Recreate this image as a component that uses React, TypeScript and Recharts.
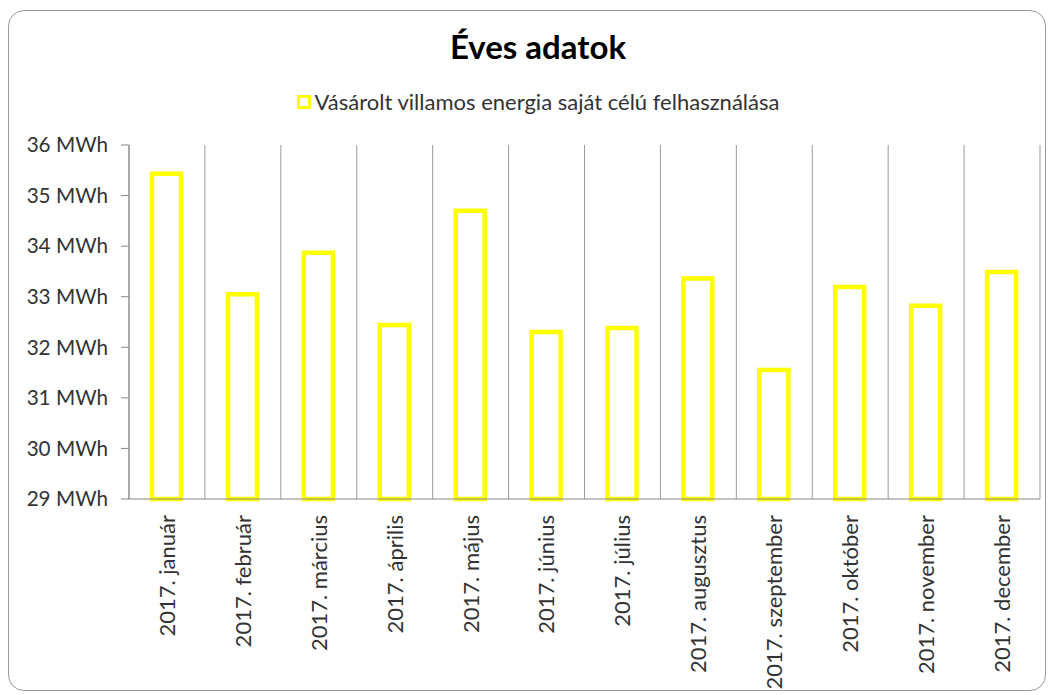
import React from 'react';
import { BarChart, Bar, XAxis, YAxis, CartesianGrid, Legend } from 'recharts';

const FONT = 'Lato, "Noto Sans", sans-serif';

const chartTitle = 'Éves adatok';
const seriesName = 'Vásárolt villamos energia saját célú felhasználása';

const months = [
  '2017. január',
  '2017. február',
  '2017. március',
  '2017. április',
  '2017. május',
  '2017. június',
  '2017. július',
  '2017. augusztus',
  '2017. szeptember',
  '2017. október',
  '2017. november',
  '2017. december',
];

const values = [35.43, 33.05, 33.87, 32.44, 34.7, 32.3, 32.38, 33.36, 31.55, 33.19, 32.82, 33.49];

const yTicks = [29, 30, 31, 32, 33, 34, 35, 36];

const boundaryTicks = [0, 1, 2, 3, 4, 5, 6, 7, 8, 9, 10, 11, 12];

const data = months.map((month, i) => ({ month, value: values[i] }));

const MonthTick = (props: any) => {
  const { x, y, payload } = props;
  return (
    <g transform={`translate(${x},${y})`}>
      <text
        x={-15}
        y={0}
        dy="0.36em"
        transform="rotate(-90)"
        textAnchor="end"
        fill="#333"
        fontSize={22}
        fontFamily={FONT}
      >
        {payload.value}
      </text>
    </g>
  );
};

const renderLegend = () => (
  <div
    style={{
      display: 'flex',
      justifyContent: 'center',
      alignItems: 'center',
      fontFamily: FONT,
      fontSize: 22,
      color: '#333',
      lineHeight: '26px',
      height: 26,
      paddingLeft: 26,
    }}
  >
    <span
      style={{
        display: 'inline-block',
        width: 8,
        height: 8,
        border: '3.5px solid #FFFF00',
        background: '#fff',
        marginRight: 4,
      }}
    />
    <span>{seriesName}</span>
  </div>
);

const boundaryCoords = ({ offset }: any) =>
  boundaryTicks.map((t) => offset.left + (t * offset.width) / (boundaryTicks.length - 1));

export default function App() {
  return (
    <div style={{ position: 'absolute', left: 0, top: 0, width: 1050, height: 695, background: '#fff' }}>
      <div
        style={{
          position: 'absolute',
          left: 8,
          top: 10,
          width: 1036,
          height: 679,
          border: '1.5px solid #9a9a9a',
          borderRadius: 16,
        }}
      />
      <div
        style={{
          position: 'absolute',
          left: 0,
          top: 26,
          width: 1076,
          textAlign: 'center',
          fontFamily: FONT,
          fontWeight: 700,
          fontSize: 33,
          lineHeight: '40px',
          color: '#000',
        }}
      >
        {chartTitle}
      </div>
      <div style={{ position: 'absolute', left: 0, top: 0 }}>
        <BarChart width={1050} height={695} data={data} margin={{ top: 119, right: 10, left: 19, bottom: 6 }}>
          <CartesianGrid
            horizontal={false}
            vertical
            verticalCoordinatesGenerator={boundaryCoords}
            stroke="#9a9a9a"
            strokeWidth={1}
          />
          <XAxis
            xAxisId={0}
            type="number"
            dataKey="value"
            domain={[0, 12]}
            allowDataOverflow
            ticks={boundaryTicks}
            interval={0}
            tick={false}
            tickSize={7}
            height={1}
            stroke="#868686"
          />
          <XAxis
            xAxisId="cat"
            dataKey="month"
            tick={<MonthTick />}
            tickLine={false}
            axisLine={false}
            tickSize={0}
            tickMargin={0}
            interval={0}
            height={189}
          />
          <YAxis
            domain={[29, 36]}
            ticks={yTicks}
            interval={0}
            width={110}
            tickSize={8}
            tickMargin={13}
            stroke="#868686"
            tick={{ fill: '#333', fontSize: 20.7, fontFamily: FONT }}
            tickFormatter={(v: number) => `${v} MWh`}
          />
          <Legend
            layout="vertical"
            verticalAlign="top"
            align="center"
            wrapperStyle={{ top: 89, left: 0, width: 1050 }}
            content={renderLegend}
          />
          <Bar
            xAxisId="cat"
            dataKey="value"
            name={seriesName}
            fill="#ffffff"
            stroke="#FFFF00"
            strokeWidth={4.5}
            barSize={29}
            isAnimationActive={false}
          />
        </BarChart>
      </div>
    </div>
  );
}
